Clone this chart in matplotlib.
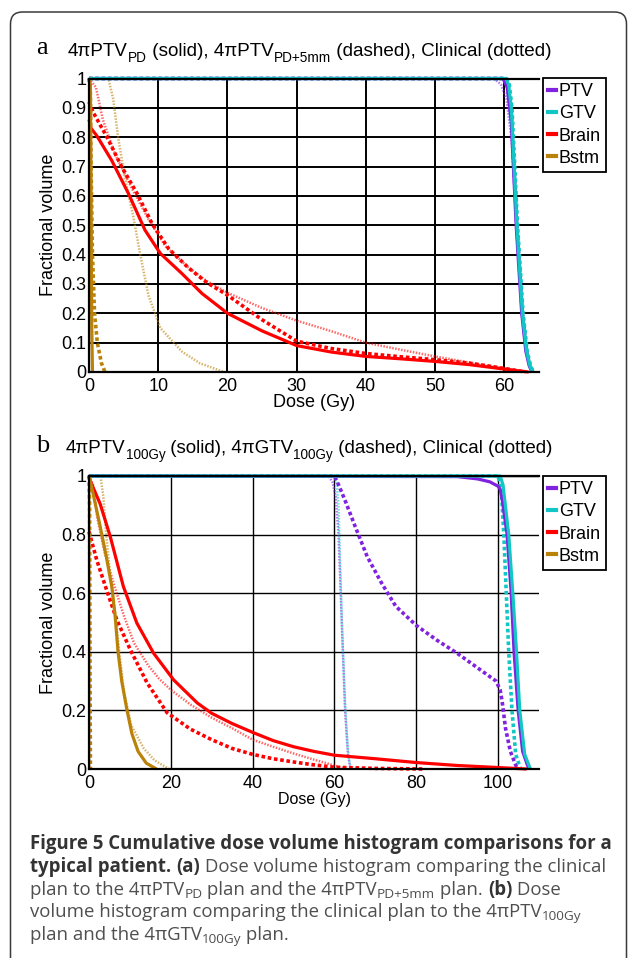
import matplotlib
matplotlib.use("Agg")
import matplotlib.pyplot as plt
from matplotlib.lines import Line2D
from matplotlib.patches import FancyBboxPatch
from matplotlib.transforms import IdentityTransform

plt.rcParams["font.family"] = ["Liberation Sans", "DejaVu Sans"]

# ---------------- data ----------------
structures = ["PTV", "GTV", "Brain", "Bstm"]
colors = {"PTV": "#8022E0", "GTV": "#12C6C6", "Brain": "#FF0000", "Bstm": "#BA8208"}

# clinical plan (dotted), shared by both panels
clin_ptv_dose = [0, 58.5, 59.5, 60.3, 61.0, 61.8, 62.6, 63.3, 63.9]
clin_ptv_vol = [1, 1, 0.98, 0.93, 0.8, 0.5, 0.2, 0.05, 0]
clin_gtv_dose = [0, 60.0, 60.5, 61.0, 61.8, 62.6, 63.2, 63.7, 64.2]
clin_gtv_vol = [1, 1, 0.98, 0.9, 0.5, 0.22, 0.08, 0.02, 0]
clin_brain_dose = [0, 1, 2, 3.8, 6.2, 8.6, 11, 14.4, 17, 20, 25, 30, 35, 40, 45, 50, 55, 60, 63]
clin_brain_vol = [1, 0.97, 0.86, 0.74, 0.625, 0.52, 0.43, 0.355, 0.31, 0.27, 0.218, 0.175, 0.139,
                  0.10, 0.076, 0.053, 0.032, 0.012, 0]
clin_bstm_dose = [0, 2.8, 3.5, 4.2, 5.2, 6.4, 7.4, 8.6, 10.3, 13.4, 16, 19.5]
clin_bstm_vol = [1, 1, 0.93, 0.8, 0.66, 0.53, 0.4, 0.26, 0.15, 0.07, 0.03, 0]

# panel a: 4piPTV_PD (solid)
a_ptv_dose = [0, 59.8, 60.4, 61.0, 61.7, 62.5, 63.1, 63.6, 64.0]
a_ptv_vol = [1, 1, 0.97, 0.85, 0.5, 0.2, 0.07, 0.02, 0]
a_gtv_dose = [0, 60.2, 60.6, 61.0, 61.8, 62.6, 63.2, 63.7, 64.1]
a_gtv_vol = [1, 1, 0.98, 0.9, 0.5, 0.2, 0.07, 0.02, 0]
a_brain_dose = [0, 0.3, 1.1, 3.3, 5.7, 8.1, 10.3, 13.4, 16.3, 20, 25, 30, 35, 40, 45, 50, 55, 60, 62, 63.5]
a_brain_vol = [0.86, 0.83, 0.806, 0.72, 0.608, 0.483, 0.404, 0.336, 0.268, 0.2, 0.14, 0.09, 0.068,
               0.053, 0.045, 0.036, 0.025, 0.01, 0.004, 0]
a_bstm_dose = [0, 0.2, 0.3, 0.4, 0.5]
a_bstm_vol = [1, 0.98, 0.6, 0.15, 0]

# panel a: 4piPTV_PD+5mm (dashed)
a5_ptv_dose = [0, 60.0, 60.5, 61.0, 61.8, 62.6, 63.2, 63.7, 64.1]
a5_ptv_vol = [1, 1, 0.97, 0.88, 0.5, 0.2, 0.07, 0.02, 0]
a5_gtv_dose = [0, 60.3, 60.7, 61.1, 61.9, 62.7, 63.3, 63.8, 64.2]
a5_gtv_vol = [1, 1, 0.98, 0.9, 0.5, 0.2, 0.07, 0.02, 0]
a5_brain_dose = [0, 0.6, 2.6, 4.7, 6.9, 9.1, 11.5, 14.4, 17, 20, 25, 30, 35, 40, 45, 50, 55, 60, 63]
a5_brain_vol = [0.92, 0.885, 0.80, 0.70, 0.61, 0.506, 0.42, 0.354, 0.305, 0.262, 0.178, 0.105, 0.08,
                0.063, 0.052, 0.042, 0.03, 0.012, 0]
a5_bstm_dose = [0, 0.2, 0.3, 0.5, 0.8, 1.2, 1.8, 2.3]
a5_bstm_vol = [1, 0.95, 0.7, 0.4, 0.2, 0.1, 0.03, 0]

# panel b: 4piPTV_100Gy (solid)
b_ptv_dose = [0, 90, 95, 98, 100, 100.5, 101, 102.2, 103.2, 103.9, 104.9, 106, 107.5]
b_ptv_vol = [1, 0.998, 0.99, 0.98, 0.965, 0.955, 0.92, 0.8, 0.6, 0.4, 0.2, 0.06, 0]
b_gtv_dose = [0, 100.5, 101.2, 102.6, 103.6, 104.5, 105.3, 106.5, 107.9]
b_gtv_vol = [1, 1, 0.97, 0.8, 0.6, 0.4, 0.2, 0.05, 0]
b_brain_dose = [0, 0.25, 2.7, 5.2, 8.4, 11.7, 15.8, 20.7, 26.5, 30, 35, 40, 45, 50, 55, 60, 70, 80,
                90, 100, 107]
b_brain_vol = [1, 0.985, 0.906, 0.793, 0.623, 0.498, 0.395, 0.304, 0.225, 0.19, 0.155, 0.125, 0.097,
               0.076, 0.06, 0.047, 0.035, 0.022, 0.012, 0.005, 0]
b_bstm_dose = [0, 1, 2.7, 4.3, 5.6, 6.4, 7.1, 8, 9.3, 10.5, 12, 14, 16.5]
b_bstm_vol = [1, 0.94, 0.83, 0.72, 0.62, 0.52, 0.4, 0.3, 0.2, 0.12, 0.06, 0.02, 0]

# panel b: 4piGTV_100Gy (dashed)
bg_ptv_dose = [0, 60, 61, 62.5, 65, 68, 71.5, 75, 80, 85, 90, 95, 99.5, 100.5, 101, 101.8, 103, 104.7]
bg_ptv_vol = [1, 1, 0.97, 0.92, 0.83, 0.725, 0.635, 0.555, 0.49, 0.44, 0.395, 0.345, 0.3, 0.27,
              0.23, 0.14, 0.06, 0]
bg_gtv_dose = [0, 100, 100.8, 101.4, 102, 102.6, 103.4, 104.3, 105.5]
bg_gtv_vol = [1, 1, 0.95, 0.8, 0.6, 0.4, 0.2, 0.05, 0]
bg_brain_dose = [0, 1.9, 4.3, 6.8, 10.1, 14.2, 19.1, 24.8, 30, 35, 40, 45, 50, 55, 60, 70, 82]
bg_brain_vol = [0.81, 0.713, 0.611, 0.509, 0.407, 0.294, 0.192, 0.136, 0.1, 0.07, 0.05, 0.035, 0.024,
                0.014, 0.006, 0.002, 0]
bg_bstm_dose = [0, 0.15, 0.25, 0.35]
bg_bstm_vol = [1, 0.9, 0.3, 0]

a_xticks = [0, 10, 20, 30, 40, 50, 60]
a_yticks = [0, 0.1, 0.2, 0.3, 0.4, 0.5, 0.6, 0.7, 0.8, 0.9, 1]
a_yticklabels = ["0", "0.1", "0.2", "0.3", "0.4", "0.5", "0.6", "0.7", "0.8", "0.9", "1"]
b_xticks = [0, 20, 40, 60, 80, 100]
b_yticks = [0, 0.2, 0.4, 0.6, 0.8, 1]
b_yticklabels = ["0", "0.2", "0.4", "0.6", "0.8", "1"]

# ---------------- figure ----------------
W, H = 629, 958
fig = plt.figure(figsize=(W / 100, H / 100), dpi=100)
fig.patch.set_facecolor("white")


def rect(l, t, r, b):
    return [l / W, 1 - b / H, (r - l) / W, (b - t) / H]


axA = fig.add_axes(rect(89, 78.5, 539, 372))
axB = fig.add_axes(rect(89, 476, 539, 769))

STY = {
    "solid": dict(lw=2.3, ls="-", alpha=1.0),
    "dashed": dict(lw=2.6, ls=(0, (1.0, 0.75)), alpha=1.0),
    "dotted": dict(lw=1.8, ls=(0, (0.6, 0.6)), alpha=0.6),
}


def plot_set(ax, curves, style):
    for name, (d, v) in zip(structures, curves):
        s = STY[style]
        ax.plot(d, v, color=colors[name], lw=s["lw"], ls=s["ls"], alpha=s["alpha"],
                solid_capstyle="butt", dash_capstyle="butt", clip_on=False)


clin = [(clin_ptv_dose, clin_ptv_vol), (clin_gtv_dose, clin_gtv_vol),
        (clin_brain_dose, clin_brain_vol), (clin_bstm_dose, clin_bstm_vol)]

plot_set(axA, clin, "dotted")
plot_set(axA, [(a5_ptv_dose, a5_ptv_vol), (a5_gtv_dose, a5_gtv_vol),
               (a5_brain_dose, a5_brain_vol), (a5_bstm_dose, a5_bstm_vol)], "dashed")
plot_set(axA, [(a_ptv_dose, a_ptv_vol), (a_gtv_dose, a_gtv_vol),
               (a_brain_dose, a_brain_vol), (a_bstm_dose, a_bstm_vol)], "solid")

plot_set(axB, clin, "dotted")
plot_set(axB, [(bg_ptv_dose, bg_ptv_vol), (bg_gtv_dose, bg_gtv_vol),
               (bg_brain_dose, bg_brain_vol), (bg_bstm_dose, bg_bstm_vol)], "dashed")
plot_set(axB, [(b_ptv_dose, b_ptv_vol), (b_gtv_dose, b_gtv_vol),
               (b_brain_dose, b_brain_vol), (b_bstm_dose, b_bstm_vol)], "solid")


def style_axes(ax, xmax, xticks, yticks, yticklabels, grid_lw, xlab_size, xlab_y):
    ax.set_xlim(0, xmax)
    ax.set_ylim(0, 1)
    ax.set_xticks(xticks)
    ax.set_yticks(yticks)
    ax.set_yticklabels(yticklabels)
    ax.grid(True, color="black", lw=grid_lw)
    ax.set_axisbelow(True)
    ax.spines["right"].set_visible(False)
    for s in ["left", "bottom", "top"]:
        ax.spines[s].set_linewidth(1.6)
        ax.spines[s].set_color("black")
    ax.tick_params(length=0, labelsize=13, labelcolor="black")
    ax.tick_params(axis="x", pad=4)
    ax.tick_params(axis="y", pad=2)
    ax.set_xlabel("Dose (Gy)", fontsize=xlab_size)
    ax.xaxis.set_label_coords(0.5, xlab_y)
    ax.set_ylabel("Fractional volume", fontsize=13, va="center")
    ax.yaxis.set_label_coords(-0.089, 0.5)
    handles = [Line2D([], [], color=colors[n], lw=3) for n in structures]
    leg = ax.legend(handles, structures, loc="upper left",
                    bbox_to_anchor=(542.7 / W, 0), bbox_transform=fig.transFigure,
                    handlelength=0.45, handletextpad=0.15, borderpad=0.3,
                    labelspacing=0.28, fontsize=13, fancybox=False, framealpha=1,
                    edgecolor="black", borderaxespad=0)
    leg.get_frame().set_linewidth(1.3)
    return leg


legA = style_axes(axA, 65, a_xticks, a_yticks, a_yticklabels, 1.4, 13, -0.075)
legB = style_axes(axB, 110, b_xticks, b_yticks, b_yticklabels, 1.0, 11.5, -0.08)
legA.set_bbox_to_anchor((542.7 / W, 1 - 78 / H), transform=fig.transFigure)
legB.set_bbox_to_anchor((542.7 / W, 1 - 476 / H), transform=fig.transFigure)

# ---------------- text runs ----------------
renderer = fig.canvas.get_renderer()


def text_width(s, **kw):
    t = fig.text(0, 0, "|" + s + "|", **kw)
    w = t.get_window_extent(renderer).width
    t.remove()
    t2 = fig.text(0, 0, "||", **kw)
    w2 = t2.get_window_extent(renderer).width
    t2.remove()
    return w - w2


def runs_width(runs):
    return sum(text_width(s, **kw) for s, kw, dy in runs)


def draw_runs(x, y, runs):
    for s, kw, dy in runs:
        fig.text(x / W, 1 - (y + dy) / H, s, va="baseline", ha="left", **kw)
        x += text_width(s, **kw)


def title_runs(size, parts):
    main = dict(fontsize=size, family=["Liberation Sans", "DejaVu Sans"], color="black")
    sub = dict(fontsize=size * 0.72, family=["Liberation Sans", "DejaVu Sans"], color="black")
    return [(s, sub if is_sub else main, 6 if is_sub else 0) for s, is_sub in parts]


titleA = [("4πPTV", False), ("PD", True), (" (solid), 4πPTV", False), ("PD+5mm", True),
          (" (dashed), Clinical (dotted)", False)]
titleB = [("4πPTV", False), ("100Gy", True), (" (solid), 4πGTV", False), ("100Gy", True),
          (" (dashed), Clinical (dotted)", False)]

sA = 12 * 487 / runs_width(title_runs(12, titleA))
draw_runs(68, 56, title_runs(sA, titleA))
sB = 12 * 491 / runs_width(title_runs(12, titleB))
draw_runs(66, 453, title_runs(sB, titleB))

fig.text(36 / W, 1 - 53.5 / H, "a", family="Liberation Serif", fontsize=19, va="baseline")
fig.text(36 / W, 1 - 452.5 / H, "b", family="Liberation Serif", fontsize=19, va="baseline")

# ---------------- caption ----------------
CAP_FAM = ["Open Sans", "DejaVu Sans"]


def cap_styles(size):
    B = dict(fontsize=size, family=CAP_FAM, weight="bold", color="#333333")
    R = dict(fontsize=size, family=CAP_FAM, weight="normal", color="#4f4f4f")
    S = dict(fontsize=size * 0.72, family=CAP_FAM, weight="normal", color="#4f4f4f")
    return B, R, S


B, R, S = cap_styles(12)
cs = 12 * 581 / runs_width([("Figure 5 Cumulative dose volume histogram comparisons for a", B, 0)])
B, R, S = cap_styles(cs)

caption = [
    [("Figure 5 Cumulative dose volume histogram comparisons for a", B, 0)],
    [("typical patient.", B, 0), (" ", R, 0), ("(a)", B, 0),
     (" Dose volume histogram comparing the clinical", R, 0)],
    [("plan to the 4πPTV", R, 0), ("PD", S, 3), (" plan and the 4πPTV", R, 0), ("PD+5mm", S, 3),
     (" plan. ", R, 0), ("(b)", B, 0), (" Dose", R, 0)],
    [("volume histogram comparing the clinical plan to the 4πPTV", R, 0), ("100Gy", S, 3)],
    [("plan and the 4πGTV", R, 0), ("100Gy", S, 3), (" plan.", R, 0)],
]
for i, line in enumerate(caption):
    draw_runs(30, 849 + 22.8 * i, line)

# ---------------- border ----------------
border = FancyBboxPatch((10.5, -30), 616, H - 12 + 30, boxstyle="round,pad=0,rounding_size=12",
                        transform=IdentityTransform(), fill=False, ec="#3a3a3a", lw=1.1)
fig.add_artist(border)

fig.savefig("out.png", dpi=100, facecolor="white")
